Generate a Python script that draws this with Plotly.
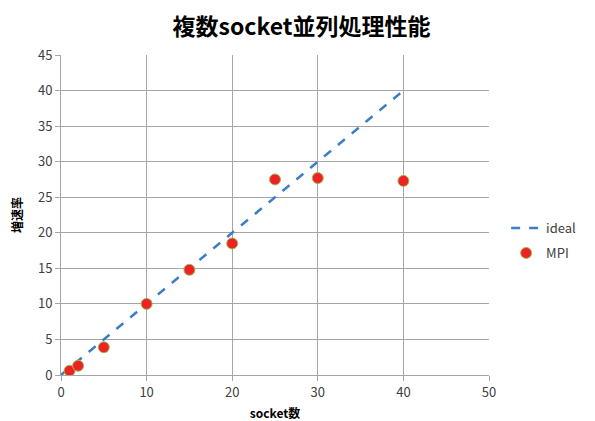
import plotly.graph_objects as go

sockets = [1, 2, 5, 10, 15, 20, 25, 30, 40]
ideal = [1, 2, 5, 10, 15, 20, 25, 30, 40]
mpi = [0.6, 1.3, 3.9, 10.0, 14.8, 18.5, 27.5, 27.7, 27.3]

title_text = "複数socket並列処理性能"
x_title = "socket数"
y_title = "増速率"

font_cjk = "Noto Sans CJK JP"

fig = go.Figure()
fig.add_trace(go.Scatter(
    x=[0] + sockets, y=[0] + ideal, mode="lines", name="ideal", legendgroup="g1",
    line=dict(color="#3c7dc8", width=2.5, dash="dash"),
))
fig.add_trace(go.Scatter(
    x=sockets, y=mpi, mode="markers", name="MPI", legendgroup="g2",
    marker=dict(color="#ee2222", size=11, line=dict(color="#9bbb59", width=1)),
))

axis_common = dict(
    showgrid=True, gridcolor="#a6a6a6", gridwidth=1,
    showline=True, linecolor="#a6a6a6", linewidth=1,
    ticks="outside", tickcolor="#a6a6a6", ticklen=5,
    tickfont=dict(family=font_cjk, size=13, color="#404040"),
    zeroline=False, mirror=False, automargin=False,
)

fig.update_layout(
    width=587, height=413,
    margin=dict(l=53, r=106, t=47, b=46),
    paper_bgcolor="white", plot_bgcolor="white",
    title=dict(text="<b>" + title_text + "</b>", x=0.5, xanchor="center", y=0.954, yanchor="middle",
               font=dict(family=font_cjk, size=23, color="#000000")),
    xaxis=dict(range=[0, 50], dtick=10, title=dict(text="<b>" + x_title + "</b>", standoff=17,
               font=dict(family=font_cjk, size=12, color="#000000")), **axis_common),
    yaxis=dict(range=[0, 45], dtick=5, title=dict(text="<b>" + y_title + "</b>", standoff=12,
               font=dict(family=font_cjk, size=12, color="#000000")), **axis_common),
    legend=dict(x=1.04, y=0.42, xanchor="left", yanchor="middle",
                font=dict(family=font_cjk, size=13, color="#404040"),
                tracegroupgap=5),
    showlegend=True,
)

fig.write_html("out.html")
